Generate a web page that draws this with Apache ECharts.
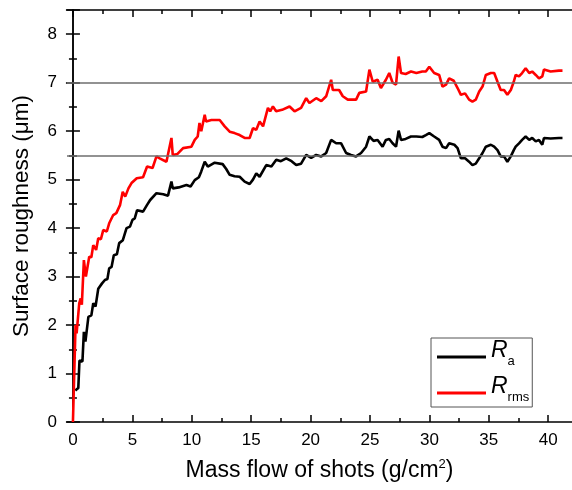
<!DOCTYPE html>
<html>
<head>
<meta charset="utf-8">
<script src="https://cdn.jsdelivr.net/npm/echarts@6/dist/echarts.min.js"></script>
<style>html,body{margin:0;padding:0;background:#fff}#c{width:572px;height:490px}</style>
</head>
<body>
<div id="c"></div>
<script>
// ---- data ----
const raMass = [0.2,0.45,0.55,0.8,0.92,1.05,1.3,1.55,1.71,1.9,2.13,2.45,2.69,2.9,3.05,3.25,3.44,3.7,3.89,4.2,4.51,4.8,5.01,5.2,5.4,5.9,6.24,6.5,7.03,7.6,8.0,8.29,8.4,8.9,9.55,9.9,10.25,10.6,10.8,11.09,11.35,11.93,12.6,12.9,13.19,13.6,14.03,14.45,14.87,15.15,15.43,15.71,16.27,16.7,17.11,17.5,17.95,18.4,18.79,19.2,19.63,20.05,20.47,20.9,21.31,21.73,22.15,22.57,22.99,23.4,23.83,24.25,24.67,24.95,25.3,25.64,26.06,26.34,26.62,26.9,27.19,27.41,27.61,28.0,28.45,28.9,29.4,29.7,29.99,30.4,30.82,31.1,31.4,31.66,32.1,32.37,32.65,33.0,33.34,33.62,33.9,34.19,34.47,34.75,35.17,35.45,35.73,36.0,36.28,36.56,36.85,37.1,37.26,37.54,37.8,38.1,38.4,38.65,38.95,39.22,39.5,39.64,40.2,40.9,41.2];
const raValues = [0.65,0.70,1.27,1.25,1.86,1.66,2.17,2.20,2.45,2.38,2.75,2.86,2.93,2.95,3.17,3.20,3.44,3.46,3.69,3.75,4.00,4.03,4.17,4.20,4.37,4.34,4.48,4.58,4.72,4.70,4.67,4.96,4.82,4.84,4.89,4.86,4.99,5.05,5.17,5.37,5.27,5.35,5.32,5.22,5.10,5.07,5.06,4.96,4.91,5.00,5.13,5.06,5.30,5.27,5.41,5.38,5.44,5.38,5.30,5.33,5.51,5.45,5.51,5.48,5.55,5.82,5.75,5.75,5.55,5.51,5.48,5.55,5.68,5.89,5.80,5.82,5.68,5.82,5.84,5.75,5.68,6.01,5.82,5.84,5.89,5.89,5.88,5.92,5.96,5.89,5.82,5.68,5.65,5.75,5.72,5.65,5.44,5.44,5.37,5.30,5.33,5.44,5.55,5.68,5.72,5.68,5.61,5.48,5.48,5.37,5.48,5.61,5.68,5.75,5.82,5.89,5.82,5.86,5.79,5.82,5.72,5.86,5.85,5.86,5.86];
const rmsMass = [0.0,0.22,0.31,0.45,0.53,0.65,0.75,0.92,1.09,1.37,1.55,1.71,1.95,2.13,2.35,2.55,2.85,3.05,3.39,3.65,3.97,4.19,4.4,4.67,4.93,5.37,5.9,6.24,6.7,7.03,7.3,7.87,8.29,8.4,8.8,9.27,9.97,10.25,10.5,10.65,10.8,11.09,11.2,11.65,12.35,12.77,13.19,13.6,14.03,14.45,14.87,15.15,15.43,15.71,16.0,16.41,16.6,16.83,17.1,17.6,18.23,18.65,19.2,19.63,19.9,20.47,20.9,21.31,21.73,21.87,22.4,22.71,23.13,23.83,24.1,24.67,24.95,25.23,25.64,25.92,26.34,26.62,26.9,27.19,27.41,27.61,28.0,28.45,28.9,29.4,29.7,29.99,30.4,30.82,31.1,31.4,31.66,32.05,32.37,32.65,33.0,33.34,33.62,33.9,34.19,34.47,34.75,35.17,35.45,35.73,36.0,36.28,36.56,36.85,37.1,37.26,37.54,37.8,38.1,38.4,38.65,38.95,39.22,39.5,39.64,40.2,40.9,41.2];
const rmsValues = [0.00,2.00,1.83,1.82,2.45,2.55,2.42,3.34,3.00,3.41,3.40,3.65,3.55,3.79,3.77,3.96,3.93,4.10,4.27,4.31,4.48,4.75,4.65,4.82,4.93,5.03,5.05,5.27,5.24,5.48,5.44,5.37,5.86,5.51,5.53,5.65,5.68,5.82,5.89,6.17,6.00,6.34,6.20,6.23,6.23,6.10,5.99,5.96,5.92,5.86,5.86,6.06,6.03,6.20,6.10,6.48,6.41,6.51,6.41,6.44,6.51,6.41,6.48,6.68,6.58,6.68,6.62,6.72,7.06,6.85,6.85,6.72,6.65,6.65,6.79,6.82,7.27,7.02,7.06,6.89,7.06,7.20,7.00,6.96,7.54,7.20,7.18,7.23,7.20,7.23,7.23,7.33,7.20,7.16,6.92,6.96,7.09,7.04,6.89,6.75,6.78,6.65,6.61,6.65,6.82,6.92,7.16,7.20,7.20,7.02,6.85,6.85,6.75,6.85,7.02,7.16,7.13,7.20,7.30,7.20,7.23,7.16,7.09,7.13,7.27,7.23,7.25,7.25];
const refLevels = [7, 5.5];
const xMajorTicks = [0,5,10,15,20,25,30,35,40];
const xMinorTicks = [2.5,7.5,12.5,17.5,22.5,27.5,32.5,37.5];
const seriesNames = ['Ra', 'Rms'];

const FONT = 'Liberation Sans, Arial, sans-serif';
const pairs = (xs, ys) => xs.map((x, i) => [x, ys[i]]);

const xBase = { type: 'value', min: -0.5, max: 42, splitLine: { show: false } };
const axLine = { show: true, lineStyle: { color: '#000', width: 1.5 } };

const chart = echarts.init(document.getElementById('c'), null, { renderer: 'canvas' });
chart.setOption({
  animation: false,
  textStyle: { fontFamily: FONT },
  grid: { left: 67, top: 10, width: 506, height: 412, containLabel: false },
  legend: {
    orient: 'vertical', left: 431, top: 338,
    padding: [1, 3, 3, 6], itemGap: 7,
    itemWidth: 49, itemHeight: 3, icon: 'rect',
    borderColor: '#555', borderWidth: 1, borderRadius: 0,
    data: seriesNames,
    formatter: function (n) {
      return n === 'Ra' ? '{i|R}{s|a}' : '{i|R}{s|rms}';
    },
    textStyle: {
      rich: {
        i: { fontSize: 23, fontStyle: 'italic', fontFamily: FONT, color: '#000', verticalAlign: 'bottom', lineHeight: 22, padding: [0, 0, 6, 0] },
        s: { fontSize: 13, fontFamily: FONT, color: '#000', verticalAlign: 'bottom', lineHeight: 14 }
      }
    }
  },
  xAxis: [
    Object.assign({}, xBase, {
      position: 'bottom', axisLine: axLine,
      axisTick: { show: true, inside: true, length: 7, customValues: xMajorTicks, lineStyle: { color: '#000', width: 1.5 } },
      axisLabel: { show: true, customValues: xMajorTicks, fontSize: 17, color: '#000', margin: 10, fontFamily: FONT },
      name: 'Mass flow of shots (g/cm{sup|2})', nameLocation: 'middle', nameGap: 62,
      nameTextStyle: { fontSize: 23, color: '#000', fontFamily: FONT, verticalAlign: 'bottom', lineHeight: 26,
        rich: { sup: { fontSize: 13, verticalAlign: 'top', lineHeight: 13, color: '#000', fontFamily: FONT } } }
    }),
    Object.assign({}, xBase, {
      position: 'bottom', axisLine: { show: false },
      axisTick: { show: true, inside: true, length: 4, customValues: xMinorTicks, lineStyle: { color: '#000', width: 1.5 } },
      axisLabel: { show: false }
    }),
    Object.assign({}, xBase, {
      position: 'top', axisLine: axLine,
      axisTick: { show: true, inside: true, length: 7, customValues: xMajorTicks, lineStyle: { color: '#000', width: 1.5 } },
      axisLabel: { show: false }
    }),
    Object.assign({}, xBase, {
      position: 'top', axisLine: { show: false },
      axisTick: { show: true, inside: true, length: 4, customValues: xMinorTicks, lineStyle: { color: '#000', width: 1.5 } },
      axisLabel: { show: false }
    })
  ],
  yAxis: [
    {
      type: 'value', min: 0, max: 8.5, interval: 1, position: 'left',
      splitLine: { show: false }, axisLine: axLine,
      axisTick: { show: true, inside: true, length: 7, lineStyle: { color: '#000', width: 1.5 } },
      minorTick: { show: true, splitNumber: 2, length: 4, lineStyle: { color: '#000', width: 1.5 } },
      axisLabel: { fontSize: 17, color: '#000', margin: 10, showMaxLabel: false, fontFamily: FONT },
      name: 'Surface roughness (\u03bcm)', nameLocation: 'middle', nameGap: 34,
      nameTextStyle: { fontSize: 22.5, color: '#000', fontFamily: FONT }
    },
    {
      type: 'value', min: 0, max: 8.5, interval: 1, position: 'right',
      splitLine: { show: false }, axisLine: axLine,
      axisTick: { show: true, inside: true, length: 7, lineStyle: { color: '#000', width: 1.5 } },
      minorTick: { show: true, splitNumber: 2, length: 4, lineStyle: { color: '#000', width: 1.5 } },
      axisLabel: { show: false }
    }
  ],
  series: [
    {
      name: 'ref', type: 'line', data: [], z: 1, silent: true,
      markLine: {
        silent: true, symbol: ['none', 'none'], animation: false,
        label: { show: false },
        lineStyle: { color: '#6e6e6e', width: 1.5, type: 'solid' },
        data: refLevels.map(v => ({ yAxis: v }))
      }
    },
    {
      name: seriesNames[0], type: 'line', showSymbol: false, symbol: 'none', z: 3,
      data: pairs(raMass, raValues),
      lineStyle: { color: '#000000', width: 2.6 }, itemStyle: { color: '#000000' }
    },
    {
      name: seriesNames[1], type: 'line', showSymbol: false, symbol: 'none', z: 4,
      data: pairs(rmsMass, rmsValues),
      lineStyle: { color: '#ff0000', width: 2.6 }, itemStyle: { color: '#ff0000' }
    }
  ]
});
</script>
</body>
</html>
